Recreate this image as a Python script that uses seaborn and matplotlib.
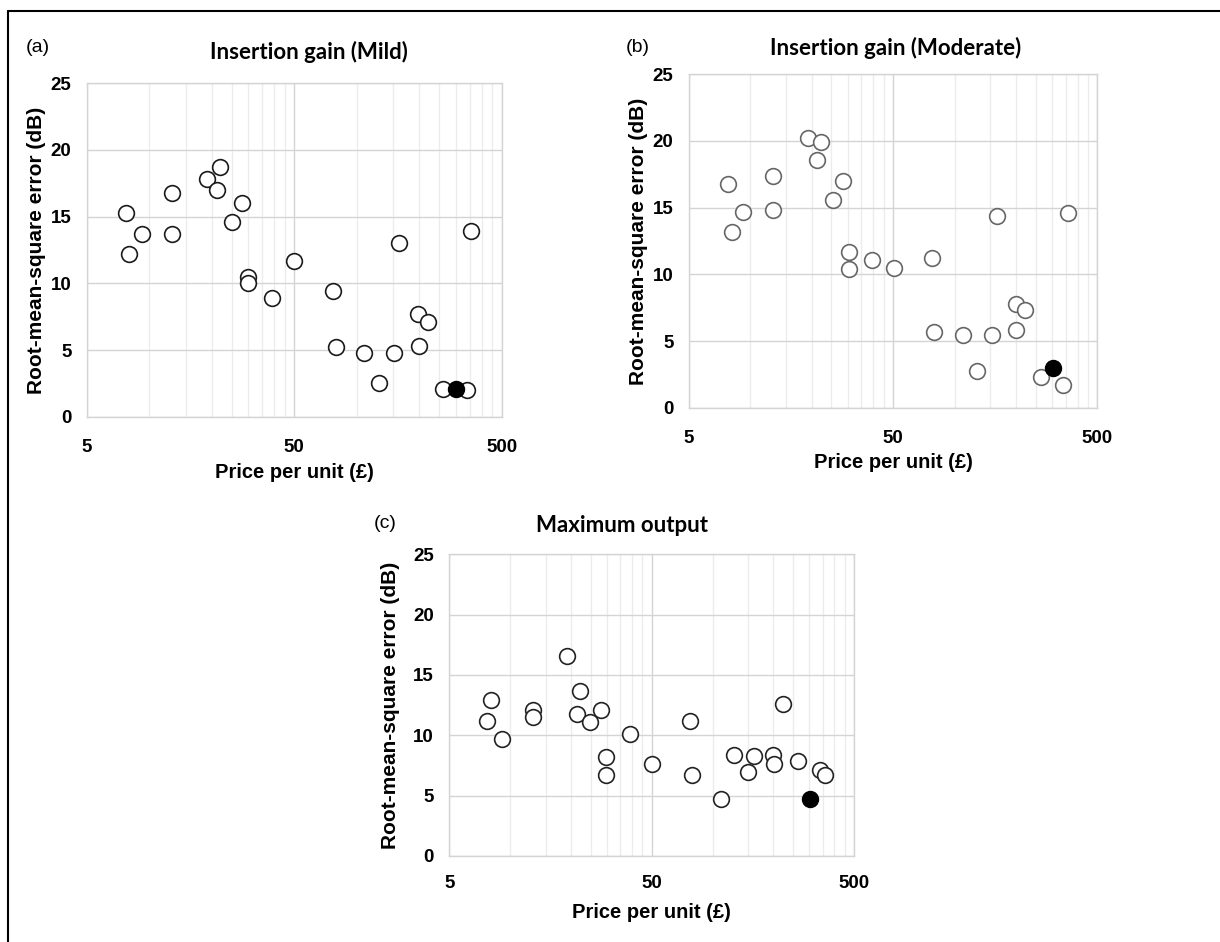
import numpy as np
import pandas as pd
import matplotlib
matplotlib.use("Agg")
import matplotlib.pyplot as plt
from matplotlib.lines import Line2D
from matplotlib.ticker import FixedLocator, NullFormatter, FixedFormatter
import seaborn as sns

# ---------------- data ----------------
titles = ["Insertion gain (Mild)", "Insertion gain (Moderate)", "Maximum output"]
panel_labels = ["(a)", "(b)", "(c)"]
x_ticks = [5, 50, 500]
x_tick_labels = ["5", "50", "500"]
y_ticks = [0, 5, 10, 15, 20, 25]

price_a = [7.7, 8.0, 9.2, 12.9, 12.9, 19.1, 21.3, 21.9, 28.0, 25.2, 30.0, 30.0, 39.1,
           50, 76.6, 160, 356, 198, 220, 79.3, 109, 151, 200, 128, 262, 340]
rmse_a = [15.3, 12.2, 13.7, 16.8, 13.7, 17.8, 17.0, 18.7, 16.0, 14.6, 10.5, 10.0, 8.9,
          11.7, 9.4, 13.0, 13.9, 7.7, 7.1, 5.2, 4.8, 4.8, 5.3, 2.5, 2.05, 2.0]
price_a_hl = [301]
rmse_a_hl = [2.05]

price_b = [7.8, 8.1, 9.2, 13.0, 13.0, 19.2, 22.1, 21.3, 28.3, 25.3, 30.3, 30.3, 39.4,
           50.3, 77.3, 162, 360, 199, 221, 79.4, 110, 152, 199, 129, 264, 340]
rmse_b = [16.8, 13.2, 14.7, 17.4, 14.8, 20.25, 19.9, 18.55, 17.0, 15.6, 11.65, 10.4, 11.05,
          10.5, 11.2, 14.4, 14.6, 7.75, 7.35, 5.7, 5.45, 5.45, 5.85, 2.75, 2.3, 1.7]
price_b_hl = [302]
rmse_b_hl = [2.95]

price_c = [7.7, 8.0, 9.15, 12.9, 12.9, 19.0, 22.1, 21.3, 24.9, 28.2, 39.1, 29.9, 29.9,
           50, 77.5, 78.9, 109.5, 128, 150, 161, 199, 201, 222, 264, 340, 358]
rmse_c = [11.2, 12.9, 9.7, 12.1, 11.5, 16.6, 13.65, 11.8, 11.1, 12.1, 10.1, 8.2, 6.7,
          7.6, 11.2, 6.7, 4.7, 8.4, 7.0, 8.3, 8.4, 7.6, 12.6, 7.9, 7.1, 6.7]
price_c_hl = [302]
rmse_c_hl = [4.7]

# ---------------- style ----------------
sns.set_theme(style="white")
plt.rcParams["font.family"] = ["Liberation Sans", "DejaVu Sans"]

W, H = 1220, 942
fig = plt.figure(figsize=(W / 100, H / 100), dpi=100)


def frac_rect(l, t, r, b):
    return [l / W, 1 - b / H, (r - l) / W, (b - t) / H]


panels = [
    dict(rect=frac_rect(86.7, 83.3, 501.7, 416.7), px=price_a, py=rmse_a,
         hx=price_a_hl, hy=rmse_a_hl, edge="#1a1a1a",
         lab_xy=(26, 47), title_xy=(309, 52), xl_xy=(294, 472), yl_x=-0.122, tpad=16),
    dict(rect=frac_rect(688.7, 74.3, 1097.3, 407.7), px=price_b, py=rmse_b,
         hx=price_b_hl, hy=rmse_b_hl, edge="#666666",
         lab_xy=(626, 47), title_xy=(896, 48), xl_xy=(893, 463), yl_x=-0.122, tpad=16),
    dict(rect=frac_rect(449.3, 554.3, 854, 856), px=price_c, py=rmse_c,
         hx=price_c_hl, hy=rmse_c_hl, edge="#222222",
         lab_xy=(374, 523), title_xy=(622, 525), xl_xy=(651, 913), yl_x=-0.145, tpad=14),
]

minor_x = [10, 15, 20, 25, 30, 35, 40, 45, 100, 150, 200, 250, 300, 350, 400, 450]

for i, p in enumerate(panels):
    ax = fig.add_axes(p["rect"])
    df = pd.DataFrame({"price": p["px"], "rmse": p["py"]})
    dh = pd.DataFrame({"price": p["hx"], "rmse": p["hy"]})
    sns.scatterplot(data=df, x="price", y="rmse", ax=ax, s=128, facecolor="white",
                    edgecolor=p["edge"], linewidth=1.2, zorder=3)
    sns.scatterplot(data=dh, x="price", y="rmse", ax=ax, s=128, color="black",
                    edgecolor="black", linewidth=1.2, zorder=4)
    ax.set_xscale("log")
    ax.set_xlim(5, 500)
    ax.set_ylim(0, 25)
    ax.xaxis.set_major_locator(FixedLocator(x_ticks))
    ax.xaxis.set_major_formatter(FixedFormatter(x_tick_labels))
    ax.xaxis.set_minor_locator(FixedLocator(minor_x))
    ax.xaxis.set_minor_formatter(NullFormatter())
    ax.set_yticks(y_ticks)
    ax.grid(True, which="major", color="#d4d4d4", linewidth=1.0, zorder=0)
    ax.grid(True, which="minor", axis="x", color="#ececec", linewidth=1.0, zorder=0)
    ax.set_axisbelow(True)
    for s in ax.spines.values():
        s.set_color("#d4d4d4")
        s.set_linewidth(1.0)
    ax.tick_params(axis="both", which="both", length=0)
    ax.tick_params(axis="y", pad=11, labelsize=13.5)
    ax.tick_params(axis="x", pad=p["tpad"], labelsize=13.5)
    for t in ax.get_xticklabels() + ax.get_yticklabels():
        t.set_fontweight("bold")
        t.set_color("black")
    ax.set_xlabel("")
    ax.set_ylabel("Root-mean-square error (dB)", fontsize=15, fontweight="bold",
                  color="black", va="center")
    ax.yaxis.set_label_coords(p["yl_x"], 0.5)

    fig.text(p["xl_xy"][0] / W, 1 - p["xl_xy"][1] / H, "Price per unit (£)",
             ha="center", va="center", fontsize=14.5, fontweight="bold", color="black")
    fig.text(p["lab_xy"][0] / W, 1 - p["lab_xy"][1] / H, panel_labels[i],
             ha="left", va="center", fontsize=14, color="black")
    fig.text(p["title_xy"][0] / W, 1 - p["title_xy"][1] / H, titles[i],
             ha="center", va="center", fontsize=16, fontweight="bold",
             family=["Lato", "DejaVu Sans"], color="black")

# outer frame lines (left and top)
fig.add_artist(Line2D([8 / W, 8 / W], [0, 1 - 11 / H], transform=fig.transFigure,
                      color="black", linewidth=1.5))
fig.add_artist(Line2D([8 / W, 1], [1 - 11 / H, 1 - 11 / H], transform=fig.transFigure,
                      color="black", linewidth=1.5))

fig.savefig("out.png", dpi=100, facecolor="white")
